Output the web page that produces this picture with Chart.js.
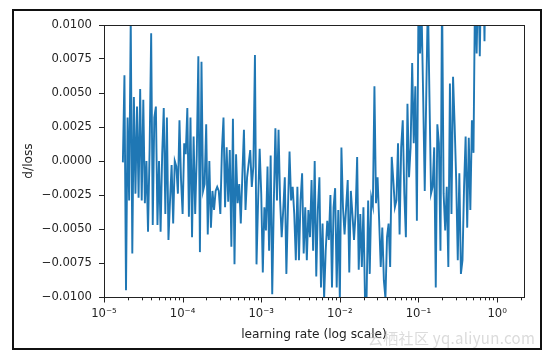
<!DOCTYPE html>
<html><head><meta charset="utf-8">
<script src="https://cdn.jsdelivr.net/npm/chart.js@4/dist/chart.umd.min.js"></script>
<style>
html,body{margin:0;padding:0;background:#fff;}
#wrap{position:relative;width:548px;height:356px;overflow:hidden;background:#fff;}
canvas{position:absolute;left:0;top:0;}
#frame{position:absolute;left:12px;top:9px;width:530px;height:341px;border:2px solid #111;box-sizing:border-box;pointer-events:none;}
#wm{position:absolute;left:368px;top:327px;font:15px "Noto Sans CJK SC","DejaVu Sans",sans-serif;color:rgba(175,175,175,0.45);white-space:nowrap;letter-spacing:0.3px;}
</style></head>
<body>
<div id="wrap">
<canvas id="c" width="548" height="356"></canvas>
<div id="frame"></div>
<div id="wm">云栖社区 yq.aliyun.com</div>
</div>
<script>
// learning rates (x values)
const learningRates = [
1.738e-5,1.820e-5,1.905e-5,1.995e-5,2.089e-5,2.188e-5,2.291e-5,2.399e-5,2.512e-5,2.630e-5,
2.754e-5,2.884e-5,3.020e-5,3.162e-5,3.311e-5,3.467e-5,3.631e-5,3.802e-5,3.981e-5,4.169e-5,
4.365e-5,4.571e-5,4.786e-5,5.012e-5,5.248e-5,5.495e-5,5.754e-5,6.026e-5,6.310e-5,6.607e-5,
6.918e-5,7.244e-5,7.586e-5,7.943e-5,8.318e-5,8.710e-5,9.120e-5,9.550e-5,
1.000e-4,1.047e-4,1.096e-4,1.148e-4,1.202e-4,1.259e-4,1.318e-4,1.380e-4,1.445e-4,1.514e-4,
1.585e-4,1.660e-4,1.738e-4,1.820e-4,1.905e-4,1.995e-4,2.089e-4,2.188e-4,2.291e-4,2.399e-4,
2.512e-4,2.630e-4,2.754e-4,2.884e-4,3.020e-4,3.162e-4,3.311e-4,3.467e-4,3.631e-4,3.802e-4,
3.981e-4,4.169e-4,4.365e-4,4.571e-4,4.786e-4,5.012e-4,5.248e-4,5.495e-4,5.754e-4,6.026e-4,
6.310e-4,6.607e-4,6.918e-4,7.244e-4,7.586e-4,7.943e-4,8.318e-4,8.710e-4,9.120e-4,9.550e-4,
1.000e-3,1.047e-3,1.096e-3,1.148e-3,1.202e-3,1.259e-3,1.318e-3,1.380e-3,1.445e-3,1.514e-3,
1.585e-3,1.660e-3,1.738e-3,1.820e-3,1.905e-3,1.995e-3,2.089e-3,2.188e-3,2.291e-3,2.399e-3,
2.512e-3,2.630e-3,2.754e-3,2.884e-3,3.020e-3,3.162e-3,3.311e-3,3.467e-3,3.631e-3,3.802e-3,
3.981e-3,4.169e-3,4.365e-3,4.571e-3,4.786e-3,5.012e-3,5.248e-3,5.495e-3,5.754e-3,6.026e-3,
6.310e-3,6.607e-3,6.918e-3,7.244e-3,7.586e-3,7.943e-3,8.318e-3,8.710e-3,9.120e-3,9.550e-3,
1.000e-2,1.047e-2,1.096e-2,1.148e-2,1.202e-2,1.259e-2,1.318e-2,1.380e-2,1.445e-2,1.514e-2,
1.585e-2,1.660e-2,1.738e-2,1.820e-2,1.905e-2,1.995e-2,2.089e-2,2.188e-2,2.291e-2,2.399e-2,
2.512e-2,2.630e-2,2.754e-2,2.884e-2,3.020e-2,3.162e-2,3.311e-2,3.467e-2,3.631e-2,3.802e-2,
3.981e-2,4.169e-2,4.365e-2,4.571e-2,4.786e-2,5.012e-2,5.248e-2,5.495e-2,5.754e-2,6.026e-2,
6.310e-2,6.607e-2,6.918e-2,7.244e-2,7.586e-2,7.943e-2,8.318e-2,8.710e-2,9.120e-2,9.550e-2,
1.000e-1,1.047e-1,1.096e-1,1.148e-1,1.202e-1,1.259e-1,1.318e-1,1.380e-1,1.445e-1,1.514e-1,
1.585e-1,1.660e-1,1.738e-1,1.820e-1,1.905e-1,1.995e-1,2.089e-1,2.188e-1,2.291e-1,2.399e-1,
2.512e-1,2.630e-1,2.754e-1,2.884e-1,3.020e-1,3.162e-1,3.311e-1,3.467e-1,3.631e-1,3.802e-1,
3.981e-1,4.169e-1,4.365e-1,4.571e-1,4.786e-1,5.012e-1,5.248e-1,5.495e-1,5.754e-1,6.026e-1,
6.310e-1,6.607e-1,6.918e-1,7.244e-1,7.586e-1,7.943e-1,8.318e-1,8.710e-1,9.120e-1,9.550e-1,
1.000,1.047,1.096
];

// d/loss values (y values)
const dLoss = [
-0.0001,0.0063,-0.0095,0.0032,-0.0029,0.0105,-0.0068,0.0047,-0.0024,0.0040,
-0.0027,0.0053,-0.0029,0.0045,-0.0031,0.0000,-0.0052,0.0008,0.0094,-0.0047,
0.0032,0.0040,-0.0047,0.0000,-0.0052,0.0005,0.0039,-0.0039,0.0032,-0.0058,
-0.0029,-0.0003,-0.0046,0.0000,-0.0004,-0.0024,0.0030,-0.0014,-0.0039,0.0013,
0.0005,0.0039,-0.0041,0.0032,-0.0056,0.0018,-0.0039,0.0005,0.0077,-0.0067,
0.0073,-0.0022,-0.0017,0.0027,-0.0054,0.0000,-0.0049,-0.0022,-0.0036,-0.0022,
-0.0019,-0.0022,-0.0039,0.0008,0.0032,-0.0034,0.0010,-0.0030,0.0008,-0.0063,
0.0031,-0.0076,0.0005,-0.0031,-0.0017,-0.0046,-0.0010,0.0023,-0.0036,-0.0012,
-0.0002,0.0008,-0.0019,-0.0004,0.0078,-0.0076,-0.0030,0.0009,-0.0024,-0.0082,
-0.0034,-0.0051,-0.0004,-0.0066,0.0004,-0.0098,-0.0031,0.0024,-0.0029,0.0023,
-0.0029,-0.0056,-0.0036,-0.0012,-0.0083,-0.0034,0.0007,-0.0029,-0.0019,-0.0039,
-0.0073,-0.0019,-0.0073,-0.0029,-0.0009,-0.0068,-0.0034,-0.0073,-0.0036,-0.0056,
-0.0014,-0.0066,0.0000,-0.0085,-0.0036,-0.0012,-0.0093,-0.0046,-0.0101,-0.0066,
-0.0044,-0.0058,-0.0025,-0.0093,-0.0034,-0.0020,-0.0093,-0.0036,-0.0103,0.0010,
-0.0034,-0.0054,-0.0034,-0.0014,-0.0082,-0.0022,-0.0039,-0.0058,-0.0039,0.0003,
-0.0080,-0.0039,-0.0078,-0.0034,-0.0102,-0.0101,-0.0029,-0.0083,-0.0027,-0.0033,
0.0055,-0.0031,-0.0012,-0.0044,-0.0078,-0.0049,-0.0088,-0.0101,-0.0056,-0.0046,
-0.0078,0.0003,-0.0014,-0.0034,-0.0029,0.0013,-0.0054,0.0010,0.0030,-0.0024,
-0.0056,0.0042,-0.0012,0.0010,0.0072,0.0013,0.0055,-0.0044,0.0115,0.0079,
0.0110,0.0047,-0.0022,0.0052,0.0120,0.0047,-0.0024,-0.0019,0.0010,-0.0093,
0.0027,0.0013,-0.0066,0.0125,-0.0024,-0.0051,-0.0019,-0.0078,0.0057,-0.0039,
0.0062,0.0027,-0.0014,-0.0073,-0.0009,-0.0083,-0.0073,-0.0019,0.0018,-0.0049,
0.0017,-0.0036,0.0030,0.0006,0.0130,0.0079,0.0140,0.0077,0.0150,0.0160,
0.0088,0.0180,0.0160,0.0220,0.0250,0.0210,0.0300,0.0280,0.0350,0.0400,0.0500
];

const yTickValues = [0.01, 0.0075, 0.005, 0.0025, 0, -0.0025, -0.005, -0.0075, -0.01];
const xDecadeTicks = [1e-5, 1e-4, 1e-3, 1e-2, 1e-1, 1e0];
const xMinorMultipliers = [2, 3, 4, 5, 6, 7, 8, 9];
const xRange = [1e-5, 2.2];
const yRange = [-0.01, 0.01];
const xTitle = 'learning rate (log scale)';
const yTitle = 'd/loss';

const sup = {'-':'\u207B','0':'\u2070','1':'\u00B9','2':'\u00B2','3':'\u00B3','4':'\u2074','5':'\u2075','6':'\u2076','7':'\u2077','8':'\u2078','9':'\u2079'};
function decadeLabel(v){
  const e = Math.round(Math.log10(v));
  return '10' + String(e).split('').map(c => sup[c]).join('');
}
function yLabel(v){
  const s = Math.abs(v).toFixed(4);
  return (v < -1e-12 ? '\u2212' : '') + s;
}

const INK = '#222';
const TICK_FONT = {family: '"DejaVu Sans", sans-serif', size: 11.6};
const TITLE_FONT = {family: '"DejaVu Sans", sans-serif', size: 12.2};

const framePlugin = {
  id: 'framePlugin',
  afterDatasetsDraw(chart){
    const {ctx, chartArea: a, scales} = chart;
    ctx.save();
    ctx.strokeStyle = INK;
    ctx.lineWidth = 1;
    ctx.strokeRect(Math.round(a.left)+0.5, Math.round(a.top)+0.5, Math.round(a.right-a.left), Math.round(a.bottom-a.top));
    const xs = scales.x;
    const yb = Math.round(a.bottom)+0.5;
    ctx.beginPath();
    xDecadeTicks.forEach(d => {
      const px = Math.round(xs.getPixelForValue(d)) + 0.5;
      ctx.moveTo(px, yb); ctx.lineTo(px, yb + 5);
      xMinorMultipliers.forEach(m => {
        const v = m * d;
        if (v <= xRange[1]) {
          const p = Math.round(xs.getPixelForValue(v)) + 0.5;
          ctx.moveTo(p, yb); ctx.lineTo(p, yb + 2.8);
        }
      });
    });
    ctx.stroke();
    ctx.restore();
  }
};

new Chart(document.getElementById('c'), {
  type: 'line',
  data: {
    datasets: [{
      data: learningRates.map((lr, i) => ({x: lr, y: dLoss[i]})),
      borderColor: '#1f77b4',
      borderWidth: 1.9,
      pointRadius: 0,
      tension: 0,
      fill: false
    }]
  },
  options: {
    responsive: false,
    devicePixelRatio: 1,
    animation: false,
    layout: {padding: {left: 0, right: 24, top: 25, bottom: 0}},
    plugins: {legend: {display: false}, tooltip: {enabled: false}},
    scales: {
      x: {
        type: 'logarithmic',
        min: xRange[0], max: xRange[1],
        afterBuildTicks: s => { s.ticks = xDecadeTicks.map(v => ({value: v})); },
        afterFit: s => { s.height = 59; },
        grid: {display: false, drawTicks: false},
        border: {display: false},
        ticks: {color: INK, font: TICK_FONT, padding: 10, maxRotation: 0, autoSkip: false, callback: v => decadeLabel(v)},
        title: {display: true, text: xTitle, color: INK, font: TITLE_FONT, padding: {top: 0, bottom: 14}}
      },
      y: {
        type: 'linear',
        min: yRange[0], max: yRange[1],
        afterBuildTicks: s => { s.ticks = yTickValues.map(v => ({value: v})); },
        afterFit: s => { s.width = 104; },
        grid: {drawOnChartArea: false, drawTicks: true, tickLength: 5, color: INK, tickColor: INK},
        border: {display: true, color: INK},
        ticks: {color: INK, font: TICK_FONT, padding: 7, autoSkip: false, callback: v => yLabel(v)},
        title: {display: true, text: yTitle, color: INK, font: TITLE_FONT, padding: {top: 22, bottom: 0}}
      }
    }
  },
  plugins: [framePlugin]
});
</script>
</body></html>
